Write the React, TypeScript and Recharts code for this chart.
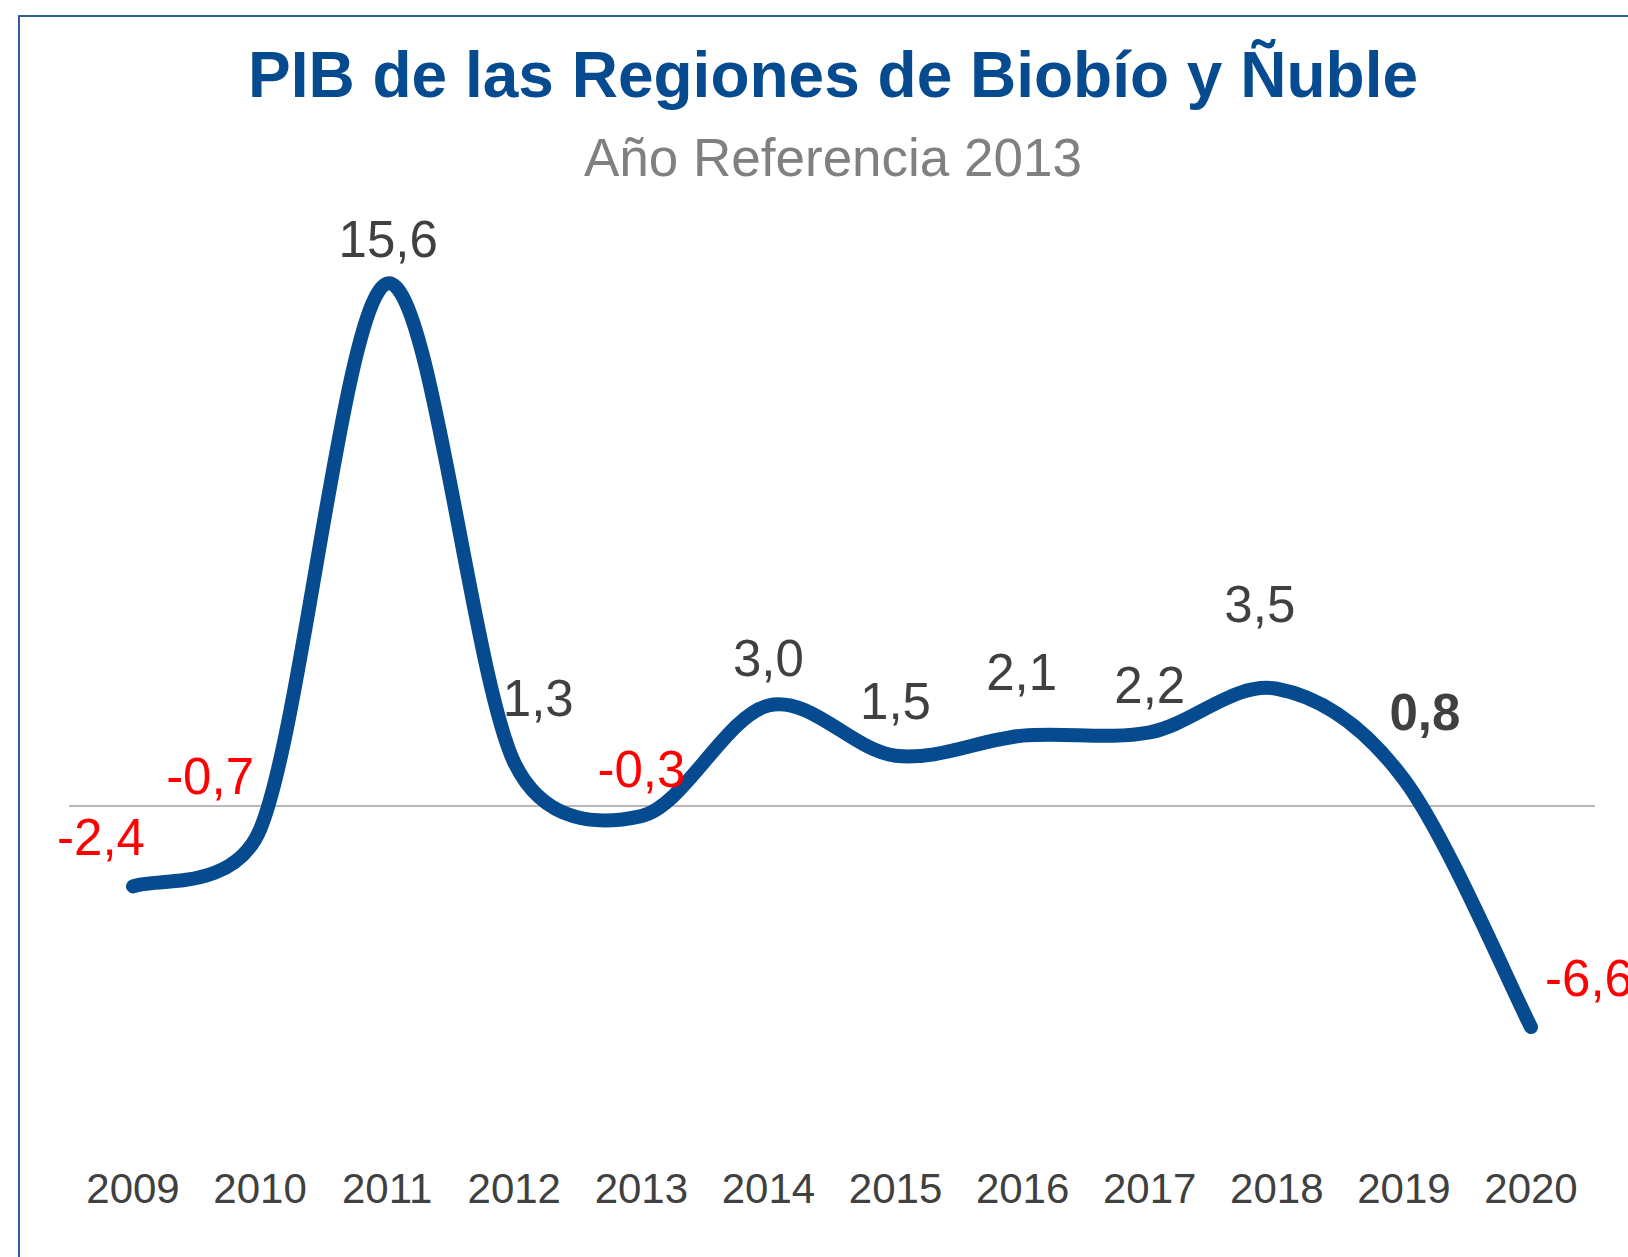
import React from 'react';
import {
  LineChart,
  Line,
  XAxis,
  YAxis,
  ReferenceLine,
  LabelList,
} from 'recharts';

const years = ['2009', '2010', '2011', '2012', '2013', '2014', '2015', '2016', '2017', '2018', '2019', '2020'];
const growth = [-2.4, -0.7, 15.6, 1.3, -0.3, 3.0, 1.5, 2.1, 2.2, 3.5, 0.8, -6.6];
const boldYear = '2019';

const title = 'PIB de las Regiones de Biobío y Ñuble';
const subtitle = 'Año Referencia 2013';

// label nudges (px from the point to the label centre), hand placed like the original
const labelNudge = [
  [-32, -49], [-50, -53], [1, -44], [24, -64], [0, -47], [0, -48],
  [0, -55], [-1, -64], [0, -47], [-17, -85], [21, -67], [58, -49],
];

const data = years.map((year, i) => ({ year, value: growth[i] }));

const FONT = '"Liberation Sans", Arial, sans-serif';
const BLUE = '#064A8F';

// smoothing close to the spreadsheet one: cardinal bezier, arms capped at half a segment
const smoothCurve = (context: any) => {
  let pts: number[][] = [];
  return {
    areaStart() {},
    areaEnd() {},
    lineStart() {
      pts = [];
    },
    point(x: number, y: number) {
      pts.push([+x, +y]);
    },
    lineEnd() {
      const n = pts.length;
      if (!n) return;
      context.moveTo(pts[0][0], pts[0][1]);
      for (let i = 0; i < n - 1; i++) {
        const p0 = pts[Math.max(i - 1, 0)];
        const p1 = pts[i];
        const p2 = pts[i + 1];
        const p3 = pts[Math.min(i + 2, n - 1)];
        const half = Math.hypot(p2[0] - p1[0], p2[1] - p1[1]) / 2;
        const arm = (a: number[], b: number[]) => {
          let vx = (b[0] - a[0]) / 6;
          let vy = (b[1] - a[1]) / 6;
          const len = Math.hypot(vx, vy);
          if (len > half && len > 0) {
            vx *= half / len;
            vy *= half / len;
          }
          return [vx, vy];
        };
        const a1 = arm(p0, p2);
        const a2 = arm(p1, p3);
        context.bezierCurveTo(
          p1[0] + a1[0], p1[1] + a1[1],
          p2[0] - a2[0], p2[1] - a2[1],
          p2[0], p2[1]
        );
      }
    },
  };
};

const fmt = (v: number) => v.toFixed(1).replace('.', ',');

const renderLabel = (props: any) => {
  const { value, index } = props;
  const x = props.x ?? props.viewBox?.x;
  const y = props.y ?? props.viewBox?.y;
  if (x == null || y == null) return null;
  const [dx, dy] = labelNudge[index] || [0, -45];
  const bold = years[index] === boldYear;
  return (
    <text
      x={x + dx}
      y={y + dy + 18}
      textAnchor="middle"
      fontFamily={FONT}
      fontSize={51}
      fontWeight={bold ? 700 : 400}
      fill={value < 0 ? '#FF0000' : '#404040'}
    >
      {fmt(value)}
    </text>
  );
};

const App = () => {
  return (
    <div
      style={{
        position: 'absolute',
        left: 0,
        top: 0,
        width: 1628,
        height: 1257,
        overflow: 'hidden',
        background: '#fff',
      }}
    >
      <LineChart
        width={1628}
        height={1257}
        data={data}
        margin={{ top: 136, right: 33, left: 69, bottom: 0 }}
      >
        <XAxis
          dataKey="year"
          height={116}
          padding={{ left: 64, right: 64 }}
          axisLine={false}
          tickLine={false}
          tickSize={0}
          tickMargin={32}
          interval={0}
          tick={{ fill: '#404040', fontSize: 42, fontFamily: FONT }}
        />
        <YAxis hide domain={[-10, 20]} />
        <ReferenceLine y={0} stroke="#A0A0A0" strokeWidth={1.3} />
        <Line
          type={smoothCurve as any}
          dataKey="value"
          stroke={BLUE}
          strokeWidth={14}
          strokeLinecap="round"
          strokeLinejoin="round"
          dot={false}
          activeDot={false}
          isAnimationActive={false}
        >
          <LabelList dataKey="value" content={renderLabel} />
        </Line>
      </LineChart>
      <svg
        width={1628}
        height={1257}
        style={{ position: 'absolute', left: 0, top: 0, pointerEvents: 'none' }}
      >
        <rect x={19} y={16} width={2000} height={2000} fill="none" stroke="#2F5E9E" strokeWidth={2} />
        <text x={833} y={97} textAnchor="middle" fontFamily={FONT} fontSize={64} fontWeight={700} fill={BLUE}>
          {title}
        </text>
        <text x={833} y={176} textAnchor="middle" fontFamily={FONT} fontSize={53} fill="#808080">
          {subtitle}
        </text>
      </svg>
    </div>
  );
};

export default App;
